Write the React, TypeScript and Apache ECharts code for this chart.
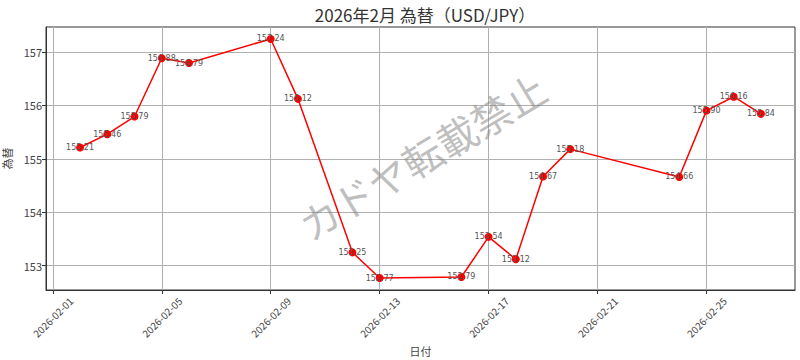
import React, { useEffect, useRef } from "react";
import * as echarts from "echarts";

const dates = [
  "2026-02-02", "2026-02-03", "2026-02-04", "2026-02-05", "2026-02-06",
  "2026-02-09", "2026-02-10", "2026-02-12", "2026-02-13", "2026-02-16",
  "2026-02-17", "2026-02-18", "2026-02-19", "2026-02-20", "2026-02-24",
  "2026-02-25", "2026-02-26", "2026-02-27",
];
const rates = [
  155.21, 155.46, 155.79, 156.88, 156.79,
  157.24, 156.12, 153.25, 152.77, 152.79,
  153.54, 153.12, 154.67, 155.18, 154.66,
  155.9, 156.16, 155.84,
];
const xTickDates = [
  "2026-02-01", "2026-02-05", "2026-02-09", "2026-02-13",
  "2026-02-17", "2026-02-21", "2026-02-25",
];
const yTicks = [153, 154, 155, 156, 157];
const titleText = "2026年2月 為替（USD/JPY）";
const xName = "日付";
const yName = "為替";
const watermark = "カドヤ転載禁止";

const DAY = 86400000;
const base = Date.UTC(2026, 1, 1);
const toOffset = (d: string) => {
  const [y, m, dd] = d.split("-").map(Number);
  return (Date.UTC(y, m - 1, dd) - base) / DAY;
};
const fmtDate = (off: number) => {
  const dt = new Date(base + Math.round(off) * DAY);
  const mm = String(dt.getUTCMonth() + 1).padStart(2, "0");
  const dd = String(dt.getUTCDate()).padStart(2, "0");
  return `${dt.getUTCFullYear()}-${mm}-${dd}`;
};

const FONT = "'Noto Sans CJK JP', 'Noto Sans', sans-serif";

export default function App() {
  const ref = useRef<HTMLDivElement>(null);
  useEffect(() => {
    if (!ref.current) return;
    document.body.style.margin = "0";
    const chart = echarts.init(ref.current, undefined, { renderer: "svg" });
    const xs = dates.map(toOffset);
    const xTicks = xTickDates.map(toOffset);
    const xMin = xs[0], xMax = xs[xs.length - 1];
    const xPad = (xMax - xMin) * 0.05;
    const yMin = Math.min(...rates), yMax = Math.max(...rates);
    const yPad = (yMax - yMin) * 0.05;
    chart.setOption({
      animation: false,
      textStyle: { fontFamily: FONT },
      title: {
        text: titleText,
        left: 420,
        textAlign: "center",
        top: 1,
        textStyle: { fontSize: 17, fontWeight: "normal", color: "#333", fontFamily: FONT },
      },
      grid: {
        left: 46, right: 5, top: 27, bottom: 70,
        outerBoundsMode: "none",
        containLabel: false,
        show: true, borderColor: "#333", borderWidth: 1, backgroundColor: "transparent",
      },
      xAxis: {
        type: "value",
        min: xMin - xPad,
        max: xMax + xPad,
        name: xName,
        nameLocation: "middle",
        nameGap: 51,
        nameTextStyle: { fontSize: 11, color: "#444", fontFamily: FONT },
        axisLine: { show: true, onZero: false, lineStyle: { color: "#333", width: 1 } },
        axisTick: { show: true, length: 4, lineStyle: { color: "#333" }, customValues: xTicks },
        axisLabel: {
          rotate: 45,
          fontSize: 10,
          color: "#444",
          margin: 27,
          align: "center",
          verticalAlign: "middle",
          customValues: xTicks,
          formatter: (v: number) => fmtDate(v),
        },
        splitLine: { show: true, lineStyle: { color: "#b0b0b0", width: 1 } },
      },
      yAxis: {
        type: "value",
        min: yMin - yPad,
        max: yMax + yPad,
        name: yName,
        nameLocation: "middle",
        nameGap: 25,
        nameRotate: 90,
        nameTextStyle: { fontSize: 11, color: "#444", fontFamily: FONT },
        axisLine: { show: true, onZero: false, lineStyle: { color: "#333", width: 1 } },
        axisTick: { show: true, length: 4, lineStyle: { color: "#333" }, customValues: yTicks },
        axisLabel: {
          fontSize: 11,
          color: "#444",
          margin: 4,
          customValues: yTicks,
          formatter: (v: number) => String(Math.round(v)),
        },
        splitLine: { show: true, lineStyle: { color: "#b0b0b0", width: 1 } },
      },
      graphic: [
        {
          type: "text",
          x: 422,
          y: 156,
          rotation: (31 * Math.PI) / 180,
          z: 100,
          silent: true,
          style: {
            text: watermark,
            fontSize: 40,
            fontFamily: FONT,
            fill: "rgba(128,128,128,0.5)",
            align: "center",
            verticalAlign: "middle",
          },
        },
      ],
      series: [
        {
          type: "line",
          data: xs.map((x, i) => [x, rates[i]]),
          symbol: "circle",
          symbolSize: 8,
          itemStyle: { color: "#ff0000" },
          lineStyle: { color: "#ff0000", width: 1.5 },
          label: {
            show: true,
            position: "inside",
            fontSize: 8,
            color: "#555",
            fontFamily: "'DejaVu Sans', sans-serif",
            formatter: (p: any) => p.value[1].toFixed(2),
          },
        },
      ],
    });
    return () => chart.dispose();
  }, []);
  return <div ref={ref} style={{ width: 800, height: 360 }} />;
}
